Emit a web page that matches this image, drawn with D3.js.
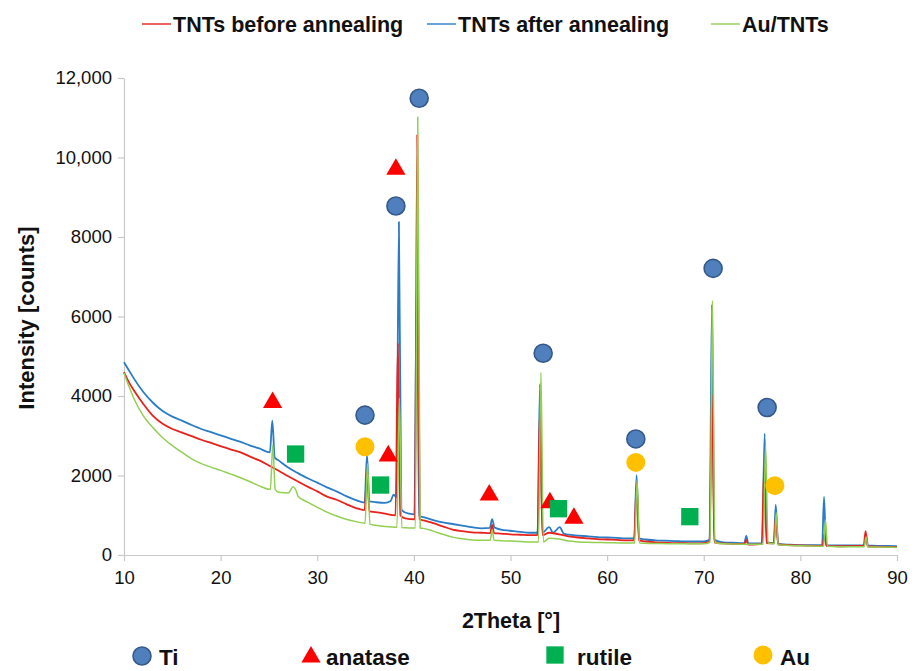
<!DOCTYPE html>
<html>
<head>
<meta charset="utf-8">
<script src="https://cdn.jsdelivr.net/npm/d3@7"></script>
<style>
  html, body { margin: 0; padding: 0; background: #fff; }
  svg { display: block; font-family: "Liberation Sans", Arial, sans-serif; }
</style>
</head>
<body>
<svg id="chart" width="912" height="671"></svg>
<script>
// XRD patterns: [2θ (°), intensity (counts)]
const beforeAnnealing = [
  [10, 4600], [10.5, 4350], [11, 4150], [12, 3800], [13, 3500], [14, 3300], [15, 3170], [16, 3080],
  [17, 2990], [18, 2900], [19, 2820], [20, 2740], [21, 2660], [22, 2590], [23, 2480], [24, 2380],
  [25, 2250], [26, 2120], [27, 1980], [28, 1850], [29, 1720], [30, 1600], [31, 1470], [32, 1390],
  [33, 1280], [34, 1180], [34.9, 1130], [35.15, 2080], [35.4, 1100], [36, 1080], [37, 1040],
  [38.1, 1000], [38.35, 5330], [38.6, 1000], [39, 930], [40.1, 900], [40.35, 10570], [40.6, 900],
  [41, 870], [42, 800], [43, 720], [44, 640], [45, 600], [46, 570], [47, 560], [47.9, 550],
  [48.1, 760], [48.3, 550], [49, 540], [50, 520], [51, 510], [52, 500], [52.8, 500], [53.05, 3720],
  [53.3, 500], [54, 560], [55, 520], [56, 470], [57, 440], [58, 420], [59, 400], [60, 390],
  [61, 380], [62, 370], [62.8, 370], [63.05, 1810], [63.3, 370], [64, 340], [65, 320], [66, 310],
  [67, 300], [68, 300], [69, 290], [70, 300], [70.6, 330], [70.85, 4050], [71.1, 320], [72, 290],
  [73, 280], [74.2, 280], [74.4, 380], [74.6, 260], [75, 260], [76, 280], [76.25, 2190],
  [76.5, 300], [77.25, 290], [77.45, 960], [77.7, 270], [78, 260], [80, 240], [82, 230],
  [82.3, 230], [82.5, 550], [82.7, 230], [84, 220], [86, 230], [86.55, 230], [86.75, 600],
  [86.95, 220], [88, 210], [90, 200]
];

const afterAnnealing = [
  [10, 4850], [10.5, 4650], [11, 4450], [12, 4100], [13, 3830], [14, 3620], [15, 3480], [16, 3380],
  [17, 3270], [18, 3170], [19, 3090], [20, 3010], [21, 2930], [22, 2850], [23, 2760], [24, 2680],
  [25.1, 2580], [25.35, 3380], [25.6, 2450], [26, 2380], [27, 2200], [28, 2060], [29, 1930],
  [30, 1820], [31, 1700], [32, 1600], [33, 1480], [34, 1380], [34.9, 1320], [35.15, 2520],
  [35.4, 1350], [36, 1330], [37, 1310], [37.6, 1360], [37.9, 1520], [38.2, 1450], [38.45, 8380],
  [38.7, 1150], [39, 1080], [39.5, 1040], [40.05, 1020], [40.3, 6900], [40.55, 980], [41, 950],
  [42, 880], [43, 820], [44, 780], [45, 740], [46, 700], [47, 670], [47.85, 680], [48.1, 900],
  [48.35, 690], [49, 640], [50, 610], [51, 580], [52, 560], [52.8, 560], [53.05, 4300], [53.3, 560],
  [54, 700], [54.4, 560], [55.1, 700], [55.5, 540], [56, 510], [57, 490], [58, 470], [59, 450],
  [60, 440], [61, 430], [62, 420], [62.8, 420], [63.05, 2010], [63.3, 420], [64, 390], [65, 370],
  [66, 360], [67, 350], [68, 340], [69, 340], [70, 340], [70.6, 380], [70.85, 6300], [71.1, 380],
  [72, 320], [73, 310], [74.2, 300], [74.4, 480], [74.6, 300], [75, 290], [76.05, 300],
  [76.3, 3050], [76.55, 320], [77.25, 300], [77.45, 1260], [77.7, 290], [78, 270], [79, 260],
  [80, 250], [81, 250], [82.25, 250], [82.45, 1470], [82.65, 250], [83, 240], [84, 240], [85, 240],
  [86.6, 240], [86.8, 500], [87, 240], [88, 230], [89, 230], [90, 225]
];

const auTNTs = [
  [10, 4580], [10.5, 4250], [11, 3950], [12, 3500], [13, 3200], [14, 2950], [15, 2750], [16, 2580],
  [17, 2420], [18, 2300], [19, 2210], [20, 2130], [21, 2040], [22, 1950], [23, 1850], [24, 1740],
  [25.15, 1650], [25.4, 2770], [25.65, 1650], [26, 1580], [27, 1560], [27.5, 1720], [27.9, 1560],
  [28, 1480], [29, 1330], [30, 1200], [31, 1080], [32, 980], [33, 900], [34, 840], [34.95, 800],
  [35.2, 2300], [35.45, 770], [36, 750], [37, 720], [38.25, 700], [38.5, 3950], [38.75, 690],
  [39.5, 680], [40.15, 680], [40.4, 11020], [40.65, 680], [41, 670], [42, 600], [43, 520],
  [44, 450], [45, 410], [46, 380], [47, 370], [47.9, 370], [48.1, 630], [48.3, 370], [49, 360],
  [50, 350], [51, 340], [52, 330], [52.9, 330], [53.15, 4590], [53.4, 330], [54, 420], [55, 400],
  [56, 350], [57, 330], [58, 320], [60, 310], [62, 300], [62.85, 300], [63.1, 1890], [63.35, 300],
  [65, 290], [67, 280], [69, 280], [70, 280], [70.65, 320], [70.9, 6400], [71.15, 320], [72, 280],
  [74, 270], [76.15, 270], [76.4, 2770], [76.65, 300], [77.3, 280], [77.5, 1060], [77.7, 260],
  [80, 230], [82, 220], [82.4, 220], [82.6, 880], [82.8, 220], [84, 210], [86, 210], [86.6, 210],
  [86.8, 450], [87, 200], [88, 200], [90, 190]
];

// Phase markers: [2θ (°), height (counts)]
const tiMarks = [[34.94, 3520], [38.14, 8780], [40.55, 11490], [53.38, 5075], [62.97, 2920], [70.97, 7210], [76.56, 3710]];
const anataseMarks = [[25.38, 3860], [37.35, 2520], [38.14, 9730], [47.8, 1535], [54.08, 1340], [56.56, 950]];
const rutileMarks = [[27.76, 2540], [36.56, 1760], [54.97, 1165], [68.56, 965]];
const auMarks = [[34.94, 2725], [62.97, 2330], [77.36, 1745]];

const xTicks = [10, 20, 30, 40, 50, 60, 70, 80, 90];
const yTicks = [0, 2000, 4000, 6000, 8000, 10000, 12000];
const yTickLabels = ["0", "2000", "4000", "6000", "8000", "10,000", "12,000"];

const seriesNames = ["TNTs before annealing", "TNTs after annealing", "Au/TNTs"];
const markerNames = ["Ti", "anatase", "rutile", "Au"];

const colors = { before: "#e8221c", after: "#2a7cc6", au: "#92cf52" };

const svg = d3.select("#chart");
const x = d3.scaleLinear().domain([10, 90]).range([124, 897]);
const y = d3.scaleLinear().domain([0, 12000]).range([555, 78]);

const axisColor = "#c8c8c8";

// Axes
const xAxis = svg.append("g").attr("transform", `translate(0,${y(0)})`)
  .call(d3.axisBottom(x).tickValues(xTicks).tickSize(6).tickSizeOuter(0).tickPadding(10));
const yAxis = svg.append("g").attr("transform", `translate(${x(10)},0)`)
  .call(d3.axisLeft(y).tickValues(yTicks).tickSize(6).tickSizeOuter(0).tickPadding(6)
    .tickFormat((d, i) => yTickLabels[i]));
[xAxis, yAxis].forEach(g => {
  g.select(".domain").attr("stroke", axisColor).attr("stroke-width", 1.2);
  g.selectAll(".tick line").attr("stroke", axisColor).attr("stroke-width", 1.2);
  g.selectAll(".tick text").attr("fill", "#111").attr("font-size", 18.5)
    .attr("font-family", "'Liberation Sans', Arial, sans-serif");
});

// Series
const line = d3.line().x(d => x(d[0])).y(d => y(d[1])).curve(d3.curveMonotoneX);
const series = [
  { data: afterAnnealing, color: colors.after, w: 1.8 },
  { data: beforeAnnealing, color: colors.before, w: 1.8 },
  { data: auTNTs, color: colors.au, w: 1.5 }
];
svg.append("g").selectAll("path").data(series).join("path")
  .attr("d", d => line(d.data))
  .attr("fill", "none")
  .attr("stroke", d => d.color)
  .attr("stroke-width", d => d.w)
  .attr("stroke-linejoin", "round");

// Phase markers
const mk = svg.append("g");
const tri = d3.symbol().type(d3.symbolTriangle).size(160);
const sq = d3.symbol().type(d3.symbolSquare).size(300);
mk.selectAll(".ti").data(tiMarks).join("circle")
  .attr("cx", d => x(d[0])).attr("cy", d => y(d[1])).attr("r", 9)
  .attr("fill", "#4f7fbd").attr("stroke", "#36598a").attr("stroke-width", 1.6);
mk.selectAll(".au").data(auMarks).join("circle")
  .attr("cx", d => x(d[0])).attr("cy", d => y(d[1])).attr("r", 9.5)
  .attr("fill", "#ffc000");
mk.selectAll(".an").data(anataseMarks).join("path")
  .attr("d", tri).attr("transform", d => `translate(${x(d[0])},${y(d[1]) + 1})`)
  .attr("fill", "#ff0000");
mk.selectAll(".ru").data(rutileMarks).join("path")
  .attr("d", sq).attr("transform", d => `translate(${x(d[0])},${y(d[1])})`)
  .attr("fill", "#00b050");

// Axis titles
svg.append("text").attr("x", 511).attr("y", 628).attr("text-anchor", "middle")
  .attr("font-weight", "bold").attr("font-size", 21.5).attr("fill", "#111").text("2Theta [°]");
svg.append("text").attr("transform", "translate(34,318) rotate(-90)").attr("text-anchor", "middle")
  .attr("font-weight", "bold").attr("font-size", 22).attr("fill", "#111").text("Intensity [counts]");

// Top legend
const topLegend = [
  { name: seriesNames[0], color: colors.before, x: 142 },
  { name: seriesNames[1], color: colors.after, x: 427 },
  { name: seriesNames[2], color: colors.au, x: 711 }
];
const tl = svg.append("g").selectAll("g").data(topLegend).join("g")
  .attr("transform", d => `translate(${d.x},24)`);
tl.append("line").attr("x1", 0).attr("x2", 29).attr("stroke", d => d.color).attr("stroke-width", 1.4);
tl.append("text").attr("x", 31).attr("y", 8).attr("font-weight", "bold").attr("font-size", 21.5)
  .attr("fill", "#111").text(d => d.name);

// Bottom legend
const bl = svg.append("g");
const legY = 656;
bl.append("circle").attr("cx", 142).attr("cy", legY).attr("r", 9)
  .attr("fill", "#4f7fbd").attr("stroke", "#36598a").attr("stroke-width", 1.6);
bl.append("path").attr("d", tri).attr("transform", `translate(311,${legY + 1})`).attr("fill", "#ff0000");
bl.append("path").attr("d", sq).attr("transform", `translate(555,${legY - 1})`).attr("fill", "#00b050");
bl.append("circle").attr("cx", 763).attr("cy", legY - 1).attr("r", 9.5).attr("fill", "#ffc000");
const legTextX = [159, 326, 577, 780];
bl.selectAll("text").data(markerNames).join("text")
  .attr("x", (d, i) => legTextX[i]).attr("y", legY + 8.5)
  .attr("font-weight", "bold").attr("font-size", 22.5).attr("fill", "#111").text(d => d);
</script>
</body>
</html>
